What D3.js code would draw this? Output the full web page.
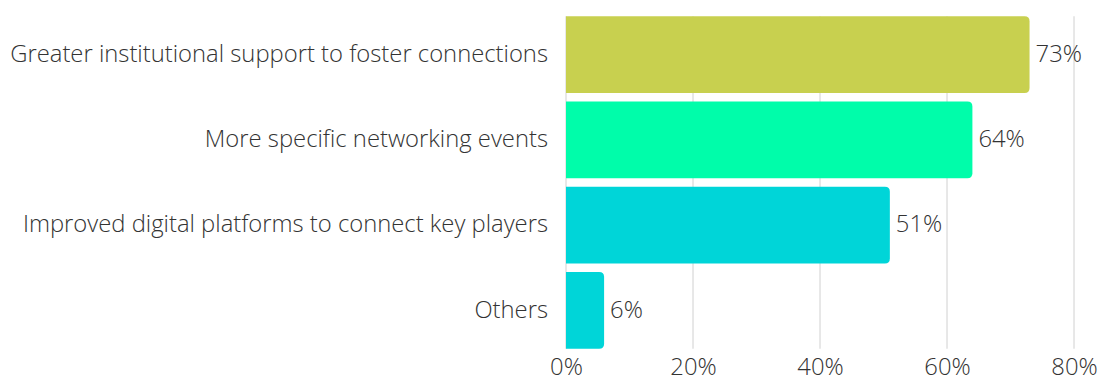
<!DOCTYPE html>
<html>
<head>
<meta charset="utf-8">
<script src="https://cdn.jsdelivr.net/npm/d3@7"></script>
<style>
  html, body { margin: 0; padding: 0; background: #fff; }
  svg { display: block; }
  svg text { font-family: "Open Sans", "Noto Sans", sans-serif; font-weight: 300; font-size: 23.8px; fill: #333; }
</style>
</head>
<body>
<svg id="chart" width="1099" height="383"></svg>
<script>
const categories = [
  "Greater institutional support to foster connections",
  "More specific networking events",
  "Improved digital platforms to connect key players",
  "Others"
];
const values = [73, 64, 51, 6];
const barColors = ["#c8d04f", "#00fdaa", "#00d5d8", "#00d5d8"];
const tickValues = [0, 20, 40, 60, 80];

const svg = d3.select("#chart");
const x = d3.scaleLinear().domain([0, 80]).range([566, 1074]);
const y = d3.scaleBand().domain(categories).range([12, 353]).paddingInner(0.1).paddingOuter(0.05);

const gridTop = y(categories[0]);
const gridBottom = y(categories[categories.length - 1]) + y.bandwidth();

// vertical gridlines
svg.append("g").selectAll("line").data(tickValues).join("line")
  .attr("x1", d => x(d)).attr("x2", d => x(d))
  .attr("y1", gridTop).attr("y2", gridBottom)
  .attr("stroke", "#d0d0d0").attr("stroke-width", 1);

// x axis labels
const xAxis = d3.axisBottom(x).tickValues(tickValues).tickFormat(d => d + "%").tickSize(0).tickPadding(0);
const gx = svg.append("g").attr("transform", `translate(0, ${gridBottom + 26})`).call(xAxis);
gx.attr("font-family", null).attr("font-size", null);
gx.select(".domain").remove();
gx.selectAll("text").attr("fill", null).attr("dy", null);

// bars with rounded right ends
function barPath(x0, x1, y0, h, r) {
  r = Math.min(r, (x1 - x0), h / 2);
  return `M${x0},${y0}H${x1 - r}Q${x1},${y0} ${x1},${y0 + r}V${y0 + h - r}Q${x1},${y0 + h} ${x1 - r},${y0 + h}H${x0}Z`;
}
svg.append("g").selectAll("path").data(categories).join("path")
  .attr("d", (c, i) => barPath(x(0), x(values[i]), y(c), y.bandwidth(), 5))
  .attr("fill", (c, i) => barColors[i]);

// value labels
svg.append("g").selectAll("text").data(categories).join("text")
  .attr("x", (c, i) => x(values[i]) + 6)
  .attr("y", c => y(c) + y.bandwidth() / 2)
  .attr("dy", "0.3em")
  .text((c, i) => values[i] + "%");

// category labels
svg.append("g").selectAll("text").data(categories).join("text")
  .attr("x", 548)
  .attr("y", c => y(c) + y.bandwidth() / 2)
  .attr("dy", "0.3em")
  .attr("text-anchor", "end")
  .text(c => c);
</script>
</body>
</html>
